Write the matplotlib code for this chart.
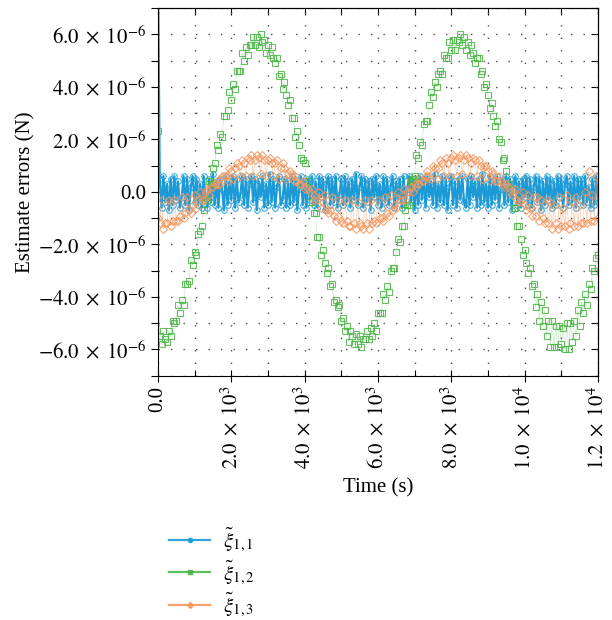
"""
Estimate errors of the three force components over time.
"""
import numpy as np
import matplotlib
matplotlib.use('Agg')
import matplotlib.pyplot as plt
from matplotlib.ticker import MultipleLocator, FuncFormatter

plt.rcParams['font.family'] = ['Liberation Serif', 'DejaVu Serif']
plt.rcParams['mathtext.fontset'] = 'stix'

# Sample step in seconds; errors are in units of 1e-7 N
dt = 50

xi11 = [90,
        5, -6, 6, -4, 3, -7, 5, -5, 6, -3,
        4, -6, -2, 6, -5, 5, -7, 2, 6, -4,
        5, -5, 3, -6, 6, -2, -6, 5, -4, 7,
        -5, 4, -6, 5, 1, -7, 6, -5, 4, -3,
        6, -6, 5, -4, -1, 6, -5, 5, -6, 3,
        6, -4, 5, -7, 4, -2, 6, -6, 3, -5,
        7, -4, 5, -6, 2, 6, -5, -3, 5, -6,
        4, -5, 6, -4, 5, -7, 1, 6, -5, 4,
        -6, 5, -3, 6, -5, 4, -6, 6, -2, 5,
        -7, 3, 6, -5, 5, -4, 6, -6, -1, 5,
        -5, 6, -4, 4, -6, 5, -3, 7, -5, 2,
        6, -6, 5, -4, 4, -7, 5, -2, 6, -5,
        3, -6, 6, -4, 5, -5, 2, 6, -6, 4,
        -3, 5, -6, 6, -5, 1, 6, -4, 5, -7,
        4, -5, 6, -3, 5, -6, 6, -2, 4, -5,
        7, -6, 3, -4, 6, -5, 5, -7, 2, 6,
        -5, 4, -6, 5, -3, 6, -4, -6, 5, -5,
        6, -2, 4, -6, 5, -5, 7, -4, 3, -6,
        6, -5, 4, -3, 6, -6, 1, 5, -5, 6,
        -4, 5, -7, 3, 6, -5, 4, -6, 5, -2,
        6, -5, 5, -6, 2, 6, -4, 5, -7, 4,
        -5, 6, -3, 5, -6, 4, -5, 6, -2, 5,
        -6, 3, 6, -5, 4, -4, 6, -6, 5, -3,
        5, -5, 6, -4, 2, -6, 5, -5, 6, -4]

xi12 = [23, -55, -58, -53, -56, -57, -53, -55, -49, -50,
        -49, -43, -46, -41, -43, -35, -35, -34, -26, -28,
        -23, -24, -16, -15, -13, -7, -2, -3, 4, 3,
        9, 11, 18, 16, 22, 21, 29, 29, 31, 38,
        35, 41, 39, 46, 46, 46, 53, 50, 55, 52,
        56, 56, 59, 56, 59, 55, 60, 57, 58, 53,
        56, 52, 55, 51, 49, 51, 44, 45, 39, 42,
        37, 33, 35, 28, 28, 21, 23, 18, 13, 12,
        11, 4, 4, -4, -4, -8, -8, -17, -17, -24,
        -22, -27, -31, -29, -36, -35, -42, -41, -44, -43,
        -49, -48, -53, -51, -57, -53, -55, -58, -54, -58,
        -55, -59, -56, -56, -53, -56, -52, -55, -50, -53,
        -46, -46, -46, -39, -41, -36, -38, -30, -29, -29,
        -23, -18, -19, -13, -13, -7, -5, -5, 4, 5,
        6, 14, 13, 19, 18, 26, 27, 27, 33, 38,
        36, 42, 40, 45, 46, 45, 52, 51, 51, 57,
        54, 58, 54, 58, 57, 60, 56, 59, 54, 57,
        52, 56, 53, 49, 51, 51, 45, 46, 40, 41,
        37, 32, 34, 29, 25, 27, 20, 19, 12, 13,
        8, 3, 3, 1, -6, -6, -13, -13, -18, -24,
        -22, -27, -31, -29, -36, -35, -44, -39, -49, -42,
        -51, -45, -55, -49, -59, -49, -59, -51, -59, -51,
        -58, -52, -60, -50, -60, -50, -57, -49, -55, -45,
        -51, -42, -46, -39, -43, -35, -37, -29, -30, -25,
        -24]

xi13 = [-10, -12, -3, -14, -12, -12, -3, -13, -11, -3,
        -11, -11, -9, -2, -10, -8, -2, -7, -8, -5,
        -1, -6, -3, 0, -3, -3, 0, 1, -1, 2,
        2, 3, 4, 3, 3, 6, 6, 6, 4, 9,
        8, 5, 9, 11, 10, 6, 12, 11, 6, 13,
        12, 14, 6, 12, 14, 13, 7, 14, 12, 6,
        12, 13, 11, 6, 11, 12, 5, 9, 11, 9,
        5, 7, 8, 7, 4, 6, 4, 3, 3, 4,
        1, 2, 1, 0, 1, -3, -2, -3, 0, -6,
        -4, -1, -7, -8, -7, -2, -9, -11, -9, -3,
        -11, -12, -3, -11, -13, -13, -3, -12, -14, -4,
        -12, -13, -14, -3, -12, -14, -3, -12, -11, -12,
        -3, -10, -10, -11, -2, -8, -9, -1, -7, -5,
        -6, 0, -3, -3, 1, -3, 0, 0, 2, 0,
        3, 2, 3, 5, 4, 4, 6, 8, 6, 5,
        10, 9, 5, 9, 12, 11, 6, 13, 11, 6,
        13, 14, 12, 6, 13, 14, 7, 12, 14, 13,
        6, 11, 13, 12, 6, 12, 10, 5, 10, 10,
        8, 4, 8, 7, 4, 4, 6, 4, 3, 2,
        3, 2, 0, -1, 0, 1, -3, -4, -3, 0,
        -5, -7, -1, -6, -9, -2, -9, -2, -11, -3,
        -10, -12, -3, -12, -4, -14, -5, -12, -14, -2,
        -13, -6, -13, -1, -14, -12, -4, -13, -2, -13,
        -5, -12, -12, 0, -12, 8, -11, -1, -11, 6,
        -10]

series = [xi11, xi12, xi13]
labels = [r'$\tilde{\xi}_{1,1}$', r'$\tilde{\xi}_{1,2}$', r'$\tilde{\xi}_{1,3}$']
colors = ['#1b9ad6', '#4cb748', '#f5975f']
markers = ['o', 's', 'D']
marker_sizes = [4, 5, 4]
line_widths = [1.6, 0.5, 0.6]
line_alphas = [1.0, 0.3, 0.45]


def sci_label(v, pos):
    if abs(v) < 1e-12:
        return '0.0'
    e = int(np.floor(np.log10(abs(v)) + 1e-9))
    m = v / 10 ** e
    return rf'${m:.1f}\;\times\;10^{{{e}}}$'


fig = plt.figure(figsize=(6.12, 6.2), dpi=100)
ax = fig.add_axes([0.258, 0.394, 0.719, 0.593])

t = np.arange(len(xi11)) * dt
handles = []
for vals, lab, c, mk, ms, lw, la in zip(series, labels, colors, markers,
                                        marker_sizes, line_widths, line_alphas):
    y = np.array(vals) * 1e-7
    ax.plot(t, y, color=c, lw=lw, alpha=la)
    ax.plot(t, y, ls='none', marker=mk, ms=ms, mfc='none', mec=c, mew=0.8,
            alpha=0.85)
    h, = ax.plot([], [], color=c, lw=1.6, marker=mk, ms=3, mfc=c, mec=c,
                 alpha=0.9, label=lab)
    handles.append(h)

ax.set_xlim(0, 12000)
ax.set_ylim(-7e-6, 7e-6)
ax.xaxis.set_major_locator(MultipleLocator(2000))
ax.xaxis.set_minor_locator(MultipleLocator(1000))
ax.yaxis.set_major_locator(MultipleLocator(2e-6))
ax.yaxis.set_minor_locator(MultipleLocator(1e-6))
ax.xaxis.set_major_formatter(FuncFormatter(sci_label))
ax.yaxis.set_major_formatter(FuncFormatter(sci_label))

ax.tick_params(axis='x', which='major', direction='inout', length=9, width=0.8,
               labelsize=15, top=False, pad=3)
ax.tick_params(axis='x', which='minor', direction='in', length=4, width=0.8, top=False)
ax.tick_params(axis='y', which='both', direction='out', length=5, width=0.8,
               labelsize=15, right=False)
plt.setp(ax.get_xticklabels(), rotation=90, va='top', ha='center')

# Inward ticks on top and right edges
top = ax.secondary_xaxis('top')
top.xaxis.set_major_locator(MultipleLocator(1000))
top.tick_params(axis='x', direction='in', length=5, width=0.8, labeltop=False)
right = ax.secondary_yaxis('right')
right.yaxis.set_major_locator(MultipleLocator(1e-6))
right.tick_params(axis='y', direction='in', length=5, width=0.8, labelright=False)

ax.grid(which='both', color='0.3', linestyle=(0, (1, 8)), linewidth=1.0)
ax.set_axisbelow(True)

ax.set_xlabel('Time (s)', fontsize=15, labelpad=6)
ax.set_ylabel('Estimate errors (N)', fontsize=15, labelpad=2)

fig.legend(handles=handles, labels=labels, loc='upper left',
           bbox_to_anchor=(0.245, 0.182), frameon=False, numpoints=1,
           handlelength=2.0, handletextpad=0.6, labelspacing=0.2, fontsize=15)

fig.savefig('out.png', dpi=100)
plt.close(fig)
